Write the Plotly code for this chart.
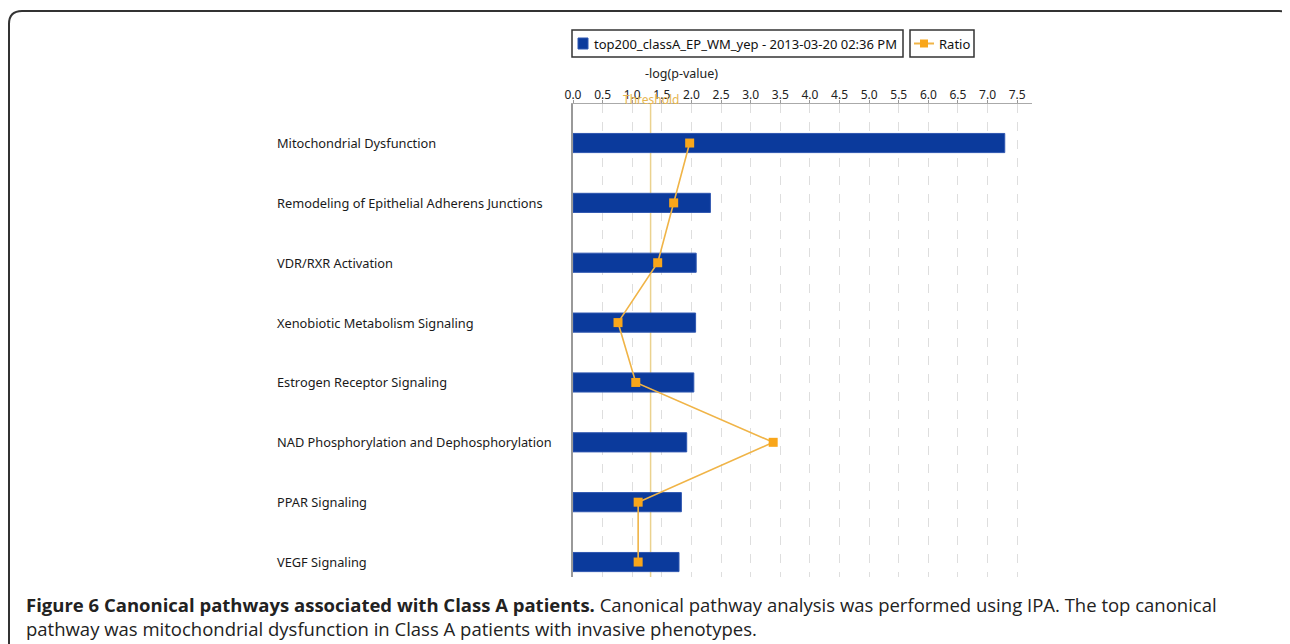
import plotly.graph_objects as go

W, H = 1290, 644
OX, OY = 8, 8  # page body margin offset

pathways = [
    "Mitochondrial Dysfunction",
    "Remodeling of Epithelial Adherens Junctions",
    "VDR/RXR Activation",
    "Xenobiotic Metabolism Signaling",
    "Estrogen Receptor Signaling",
    "NAD Phosphorylation and Dephosphorylation",
    "PPAR Signaling",
    "VEGF Signaling",
]
neg_log_p = [7.29, 2.32, 2.08, 2.07, 2.04, 1.92, 1.83, 1.79]
ratio = [1.97, 1.70, 1.43, 0.76, 1.06, 3.38, 1.10, 1.10]
threshold = 1.31
x_ticks = [i * 0.5 for i in range(16)]
series_name = "top200_classA_EP_WM_yep - 2013-03-20 02:36 PM"

BLUE = "#0B3A9C"
ORANGE = "#F9A61A"
LINE_ORANGE = "#F0B447"
FONT = "Noto Sans"


def px(x):
    return (x - OX) / (W - OX)


def py(y):
    return 1 - (y - OY) / (H - OY)


fig = go.Figure()

fig.add_trace(
    go.Bar(
        y=pathways,
        x=neg_log_p,
        orientation="h",
        width=0.32,
        marker=dict(color=BLUE, line=dict(color="#2E56B0", width=1)),
        name=series_name,
        showlegend=False,
    )
)
fig.add_trace(
    go.Scatter(
        y=pathways,
        x=ratio,
        mode="lines+markers",
        line=dict(color=LINE_ORANGE, width=1.6),
        marker=dict(symbol="square", size=9, color=ORANGE),
        name="Ratio",
        showlegend=False,
        cliponaxis=False,
    )
)

# threshold line
fig.add_shape(
    type="line", xref="x", yref="paper",
    x0=threshold, x1=threshold, y0=py(577), y1=py(104),
    line=dict(color="#EBD28F", width=1.5), layer="below",
)
fig.add_annotation(
    x=threshold, xref="x", y=py(99), yref="paper",
    xanchor="center", yanchor="middle",
    text="Threshold", showarrow=False,
    font=dict(family=FONT, size=12, color="#E6B650"),
)
fig.add_annotation(
    x=px(681), xref="paper", y=py(74), yref="paper",
    xanchor="center", yanchor="middle",
    text="-log(p-value)", showarrow=False,
    font=dict(family=FONT, size=12.5, color="#222222"),
)

# outer rounded border
border = (
    f"M {px(9)},{py(660)} L {px(9)},{py(24)} "
    f"Q {px(9)},{py(11)} {px(22)},{py(11)} "
    f"L {px(1279)},{py(11)} Q {px(1287)},{py(11)} {px(1287)},{py(18)} "
    f"L {px(1287)},{py(660)}"
)
fig.add_shape(type="path", xref="paper", yref="paper", path=border,
              line=dict(color="#333333", width=2))

# legend boxes
fig.add_shape(type="rect", xref="paper", yref="paper",
              x0=px(572), x1=px(903), y0=py(57), y1=py(30),
              line=dict(color="#333333", width=1.5))
fig.add_shape(type="rect", xref="paper", yref="paper",
              x0=px(578), x1=px(588), y0=py(49), y1=py(38),
              fillcolor=BLUE, line=dict(color="#2E56B0", width=1))
fig.add_annotation(x=px(592), y=py(43.5), xref="paper", yref="paper",
                   xanchor="left", yanchor="middle",
                   text=series_name, showarrow=False,
                   font=dict(family=FONT, size=13, color="#111111"))
fig.add_shape(type="rect", xref="paper", yref="paper",
              x0=px(910), x1=px(974), y0=py(57), y1=py(30),
              line=dict(color="#333333", width=1.5))
fig.add_shape(type="line", xref="paper", yref="paper",
              x0=px(914), x1=px(934), y0=py(43.5), y1=py(43.5),
              line=dict(color=LINE_ORANGE, width=2))
fig.add_shape(type="rect", xref="paper", yref="paper",
              x0=px(920), x1=px(928), y0=py(47.5), y1=py(39.5),
              fillcolor=ORANGE, line=dict(width=0))
fig.add_annotation(x=px(937), y=py(43.5), xref="paper", yref="paper",
                   xanchor="left", yanchor="middle",
                   text="Ratio", showarrow=False,
                   font=dict(family=FONT, size=13, color="#111111"))

# pathway labels, left aligned
for name in pathways:
    fig.add_annotation(x=px(275), xref="paper", y=name, yref="y",
                       xanchor="left", yanchor="middle",
                       text=name, showarrow=False,
                       font=dict(family=FONT, size=12.8, color="#1a1a1a"))

# caption
fig.add_annotation(
    x=px(24), y=py(604), xref="paper", yref="paper",
    xanchor="left", yanchor="middle",
    text="<b>Figure 6 Canonical pathways associated with Class A patients.</b> "
         "Canonical pathway analysis was performed using IPA. The top canonical",
    showarrow=False,
    font=dict(family="Open Sans", size=18.5, color="#222222"),
)
fig.add_annotation(
    x=px(24), y=py(628), xref="paper", yref="paper",
    xanchor="left", yanchor="middle",
    text="pathway was mitochondrial dysfunction in Class A patients with invasive phenotypes.",
    showarrow=False,
    font=dict(family="Open Sans", size=18.5, color="#222222"),
)

fig.update_layout(
    width=W - OX, height=H - OY,
    margin=dict(l=0, r=0, t=0, b=0, autoexpand=False),
    paper_bgcolor="white", plot_bgcolor="white",
    showlegend=False,
    xaxis=dict(
        domain=[px(573), px(1032)],
        range=[0, 7.75],
        side="top",
        tickvals=x_ticks,
        ticktext=[f"{v:.1f}" for v in x_ticks],
        tickfont=dict(family=FONT, size=12, color="#222222"),
        ticks="outside", ticklen=3, tickcolor="#999999",
        ticklabelstandoff=-4,
        showline=True, linecolor="#aaaaaa", linewidth=1,
        showgrid=True, gridcolor="#dedede", griddash="dash", gridwidth=1,
        zeroline=False, automargin=False,
        fixedrange=True,
    ),
    yaxis=dict(
        domain=[py(577), py(104)],
        type="category",
        categoryorder="array", categoryarray=pathways,
        range=[7.25, -0.652],
        showticklabels=False, ticks="",
        showgrid=False, zeroline=False,
        showline=True, linecolor="#999999", linewidth=1.5,
        automargin=False, fixedrange=True,
    ),
)

fig.write_html("out.html")
